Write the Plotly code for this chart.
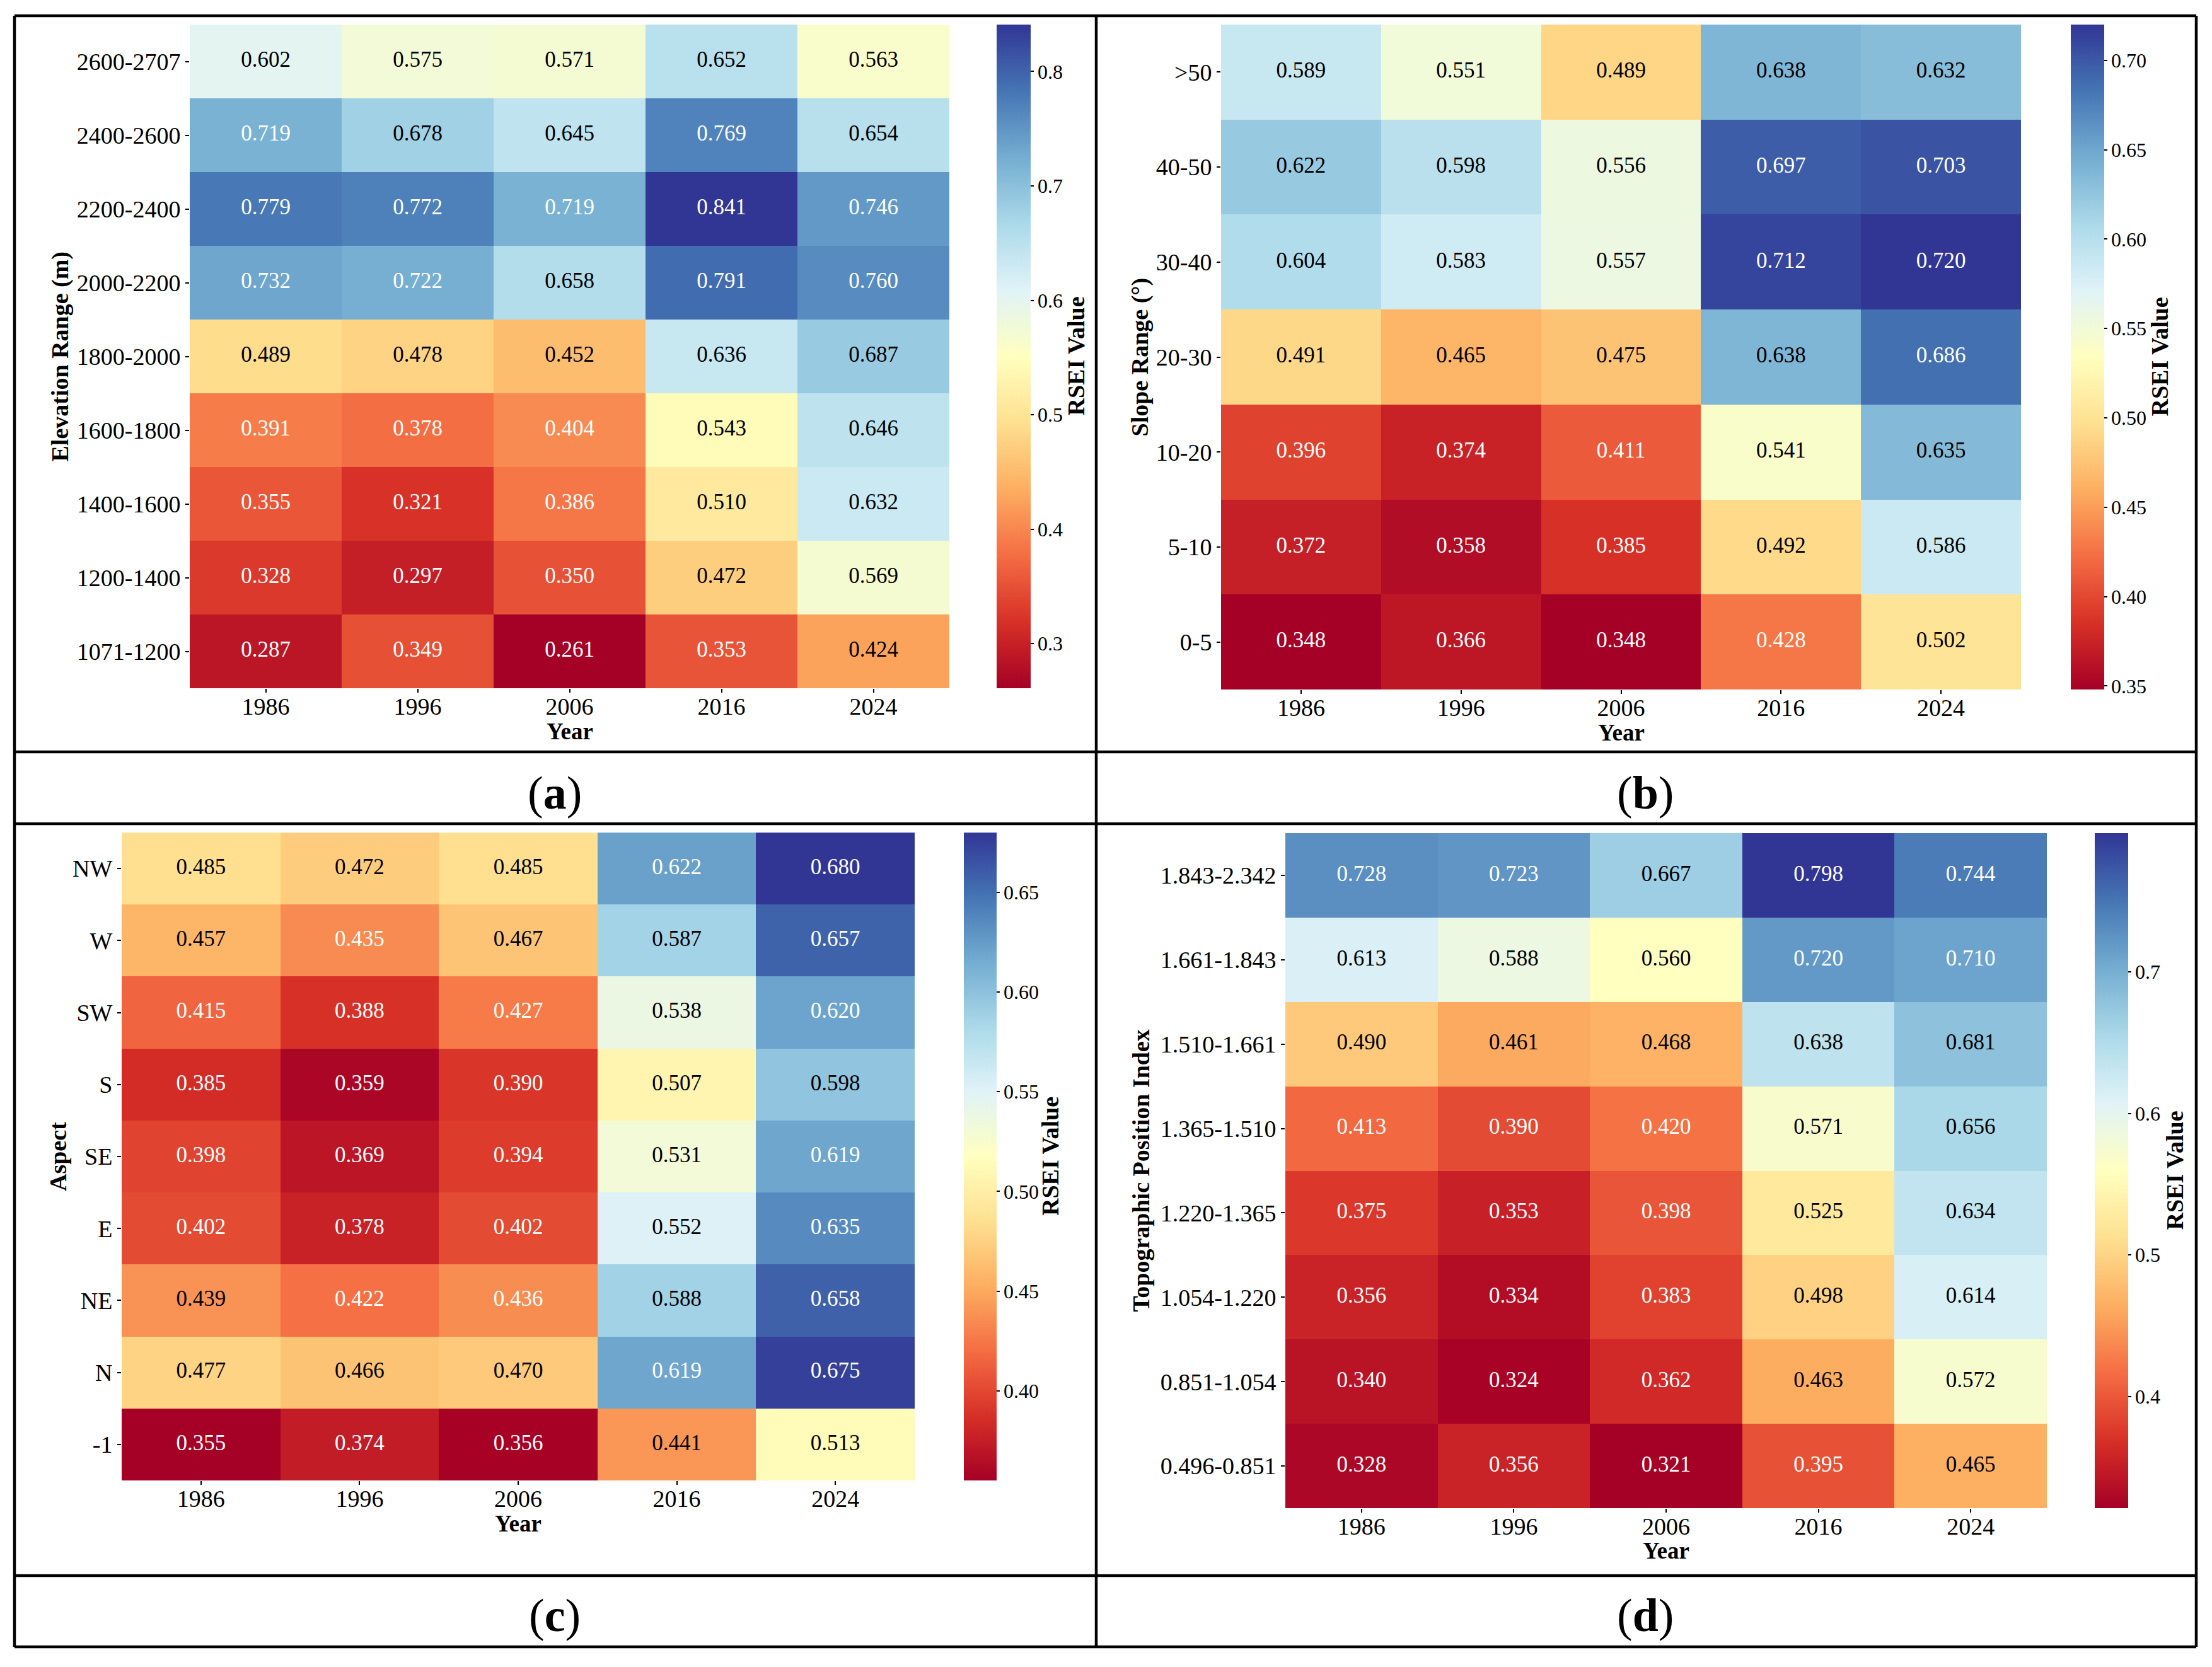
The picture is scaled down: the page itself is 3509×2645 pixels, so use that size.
import plotly.graph_objects as go
import plotly.colors as pc

W, H = 3509, 2645
PAGE_PAD = 8          # default body margin of the written html page
FONT = "Liberation Serif, Times New Roman, serif"

# ── DATA ─────────────────────────────────────────────────────────────────────
years = ["1986", "1996", "2006", "2016", "2024"]

elev_rows = ["2600-2707", "2400-2600", "2200-2400", "2000-2200", "1800-2000",
             "1600-1800", "1400-1600", "1200-1400", "1071-1200"]
elev_vals = [
    [0.602, 0.575, 0.571, 0.652, 0.563],
    [0.719, 0.678, 0.645, 0.769, 0.654],
    [0.779, 0.772, 0.719, 0.841, 0.746],
    [0.732, 0.722, 0.658, 0.791, 0.760],
    [0.489, 0.478, 0.452, 0.636, 0.687],
    [0.391, 0.378, 0.404, 0.543, 0.646],
    [0.355, 0.321, 0.386, 0.510, 0.632],
    [0.328, 0.297, 0.350, 0.472, 0.569],
    [0.287, 0.349, 0.261, 0.353, 0.424],
]

slope_rows = [">50", "40-50", "30-40", "20-30", "10-20", "5-10", "0-5"]
slope_vals = [
    [0.589, 0.551, 0.489, 0.638, 0.632],
    [0.622, 0.598, 0.556, 0.697, 0.703],
    [0.604, 0.583, 0.557, 0.712, 0.720],
    [0.491, 0.465, 0.475, 0.638, 0.686],
    [0.396, 0.374, 0.411, 0.541, 0.635],
    [0.372, 0.358, 0.385, 0.492, 0.586],
    [0.348, 0.366, 0.348, 0.428, 0.502],
]

aspect_rows = ["NW", "W", "SW", "S", "SE", "E", "NE", "N", "-1"]
aspect_vals = [
    [0.485, 0.472, 0.485, 0.622, 0.680],
    [0.457, 0.435, 0.467, 0.587, 0.657],
    [0.415, 0.388, 0.427, 0.538, 0.620],
    [0.385, 0.359, 0.390, 0.507, 0.598],
    [0.398, 0.369, 0.394, 0.531, 0.619],
    [0.402, 0.378, 0.402, 0.552, 0.635],
    [0.439, 0.422, 0.436, 0.588, 0.658],
    [0.477, 0.466, 0.470, 0.619, 0.675],
    [0.355, 0.374, 0.356, 0.441, 0.513],
]

tpi_rows = ["1.843-2.342", "1.661-1.843", "1.510-1.661", "1.365-1.510",
            "1.220-1.365", "1.054-1.220", "0.851-1.054", "0.496-0.851"]
tpi_vals = [
    [0.728, 0.723, 0.667, 0.798, 0.744],
    [0.613, 0.588, 0.560, 0.720, 0.710],
    [0.490, 0.461, 0.468, 0.638, 0.681],
    [0.413, 0.390, 0.420, 0.571, 0.656],
    [0.375, 0.353, 0.398, 0.525, 0.634],
    [0.356, 0.334, 0.383, 0.498, 0.614],
    [0.340, 0.324, 0.362, 0.463, 0.572],
    [0.328, 0.356, 0.321, 0.395, 0.465],
]

# ── LAYOUT (pixel boxes, in page pixels) ─────────────────────────────────────
# rows, values, y title, heat box (x0,x1,y0,y1), cbar (x0,x1), dtick, fmt,
# y-title x, "Year" y, cbar title x, panel label (x,y), letter
panels = [
    (elev_rows, elev_vals, "Elevation Range (m)", (301, 1506, 39, 1092), (1581, 1635),
     0.1, ".1f", 95, 1160, 1707, (880, 1258), "a"),
    (slope_rows, slope_vals, "Slope Range (°)", (1937, 3206, 39, 1094), (3285, 3338),
     0.05, ".2f", 1808, 1162, 3426, (2610, 1258), "b"),
    (aspect_rows, aspect_vals, "Aspect", (193, 1451, 1321, 2349), (1529, 1581),
     0.05, ".2f", 92, 2417, 1666, (880, 2563), "c"),
    (tpi_rows, tpi_vals, "Topographic Position Index", (2039, 3247, 1322, 2393), (3323, 3376),
     0.1, ".1f", 1809, 2460, 3449, (2610, 2563), "d"),
]

FW, FH = W - 2 * PAGE_PAD, H - 2 * PAGE_PAD
cscale = pc.make_colorscale(pc.diverging.RdYlBu)


def fx(p):
    return (p - PAGE_PAD) / FW


def fy(p):
    return 1 - (p - PAGE_PAD) / FH


def text_color(v, lo, hi):
    # seaborn-style contrast rule on the cell colour
    c = pc.sample_colorscale(cscale, [(v - lo) / (hi - lo)])[0]
    r, g, b = pc.unlabel_rgb(c)
    lin = []
    for ch in (r, g, b):
        ch = ch / 255
        lin.append(ch / 12.92 if ch <= 0.03928 else ((ch + 0.055) / 1.055) ** 2.4)
    lum = 0.2126 * lin[0] + 0.7152 * lin[1] + 0.0722 * lin[2]
    return "black" if lum > 0.408 else "white"


fig = go.Figure()
annotations = []
layout = {}

for k, (rows, vals, ytitle, box, cb, dtick, fmt, ytx, yry, cbt, lab, letter) in enumerate(panels):
    n = k + 1
    sfx = "" if n == 1 else str(n)
    x0, x1, y0, y1 = box
    flat = [v for r in vals for v in r]
    lo, hi = min(flat), max(flat)

    fig.add_trace(go.Heatmap(
        z=vals, x=years, y=rows, coloraxis="coloraxis" + sfx,
        xaxis="x" + sfx, yaxis="y" + sfx, hoverongaps=False,
    ))

    tx, ty, tt, tc = [], [], [], []
    for i, r in enumerate(rows):
        for j, yr in enumerate(years):
            tx.append(yr)
            ty.append(r)
            tt.append(f"{vals[i][j]:.3f}")
            tc.append(text_color(vals[i][j], lo, hi))
    fig.add_trace(go.Scatter(
        x=tx, y=ty, text=tt, mode="text", xaxis="x" + sfx, yaxis="y" + sfx,
        textfont=dict(family=FONT, size=35, color=tc),
        hoverinfo="skip", showlegend=False, cliponaxis=False,
    ))

    axis_common = dict(type="category", ticks="outside", ticklen=6, tickwidth=1.5,
                       tickcolor="black", showgrid=False, zeroline=False,
                       showline=False, tickfont=dict(family=FONT, size=38, color="black"))
    layout["xaxis" + sfx] = dict(domain=[fx(x0), fx(x1)], anchor="y" + sfx,
                                 ticklabelstandoff=-11, **axis_common)
    layout["yaxis" + sfx] = dict(domain=[fy(y1), fy(y0)], anchor="x" + sfx,
                                 autorange="reversed", **axis_common)
    layout["coloraxis" + sfx] = dict(
        colorscale=cscale, cmin=lo, cmax=hi,
        colorbar=dict(
            x=fx(cb[0]), xanchor="left", y=fy(y0), yanchor="top",
            len=y1 - y0, lenmode="pixels", thickness=cb[1] - cb[0], thicknessmode="pixels",
            xpad=0, ypad=0, outlinewidth=0, ticks="outside", ticklen=5, tickwidth=1.5,
            tickcolor="black", tick0=0, dtick=dtick, tickformat=fmt,
            tickfont=dict(family=FONT, size=32, color="black"),
        ),
    )

    # axis titles
    annotations.append(dict(x=fx(ytx), y=fy((y0 + y1) / 2), xref="paper", yref="paper",
                            text=f"<b>{ytitle}</b>", textangle=-90, showarrow=False,
                            font=dict(family=FONT, size=38, color="black"),
                            xanchor="center", yanchor="middle"))
    annotations.append(dict(x=fx((x0 + x1) / 2), y=fy(yry), xref="paper", yref="paper",
                            text="<b>Year</b>", showarrow=False,
                            font=dict(family=FONT, size=37, color="black"),
                            xanchor="center", yanchor="middle"))
    annotations.append(dict(x=fx(cbt), y=fy((y0 + y1) / 2), xref="paper", yref="paper",
                            text="<b>RSEI Value</b>", textangle=-90, showarrow=False,
                            font=dict(family=FONT, size=38, color="black"),
                            xanchor="center", yanchor="middle"))
    annotations.append(dict(x=fx(lab[0]), y=fy(lab[1]), xref="paper", yref="paper",
                            text=f"(<b>{letter}</b>)", showarrow=False,
                            font=dict(family=FONT, size=74, color="black"),
                            xanchor="center", yanchor="middle"))

# frame lines of the figure table
frame = [
    (23, 25, 3484, 25), (23, 2613, 3484, 2613), (23, 25, 23, 2613), (3484, 25, 3484, 2613),
    (1739, 25, 1739, 2613), (23, 1193, 3484, 1193), (23, 1307, 3484, 1307),
    (23, 2500, 3484, 2500),
]
shapes = [dict(type="line", xref="paper", yref="paper",
               x0=fx(a), y0=fy(b), x1=fx(c), y1=fy(d),
               line=dict(color="black", width=4.5)) for a, b, c, d in frame]

fig.update_layout(
    width=FW, height=FH, margin=dict(l=0, r=0, t=0, b=0),
    paper_bgcolor="white", plot_bgcolor="white",
    annotations=annotations, shapes=shapes, showlegend=False,
    **layout,
)

fig.write_html("out.html")
